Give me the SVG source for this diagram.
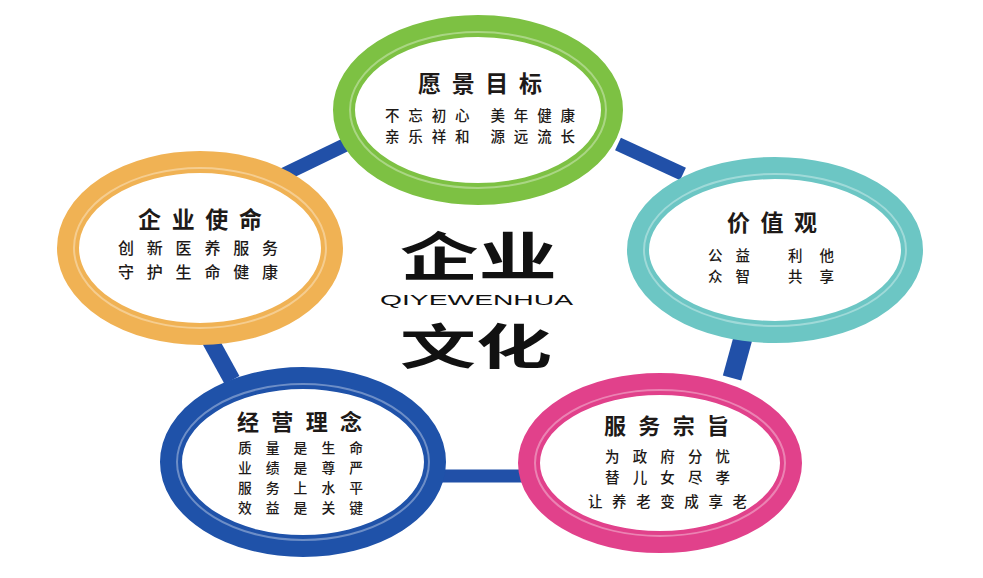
<svg xmlns="http://www.w3.org/2000/svg" width="983" height="578" viewBox="0 0 983 578">
<style>
.ring{fill:#fff;stroke-width:22}
.hl{fill:none;stroke-width:2;opacity:.35;stroke:#fff}
.conn{stroke:#2150a8;fill:none;stroke-linecap:butt}
.cjk{font-family:"Noto Sans CJK SC","Noto Sans CJK JP",sans-serif;fill:#1e1a18;font-weight:500}
.t{font-weight:700}
.big{font-weight:700;fill:#111}
.lat{font-family:"Liberation Sans",Arial,sans-serif;font-weight:400;fill:#111}
</style>
<rect width="983" height="578" fill="#fff"/>
<g id="connectors">
<line class="conn" x1="283" y1="175" x2="345" y2="145" stroke-width="14"/>
<line class="conn" x1="618" y1="144" x2="683" y2="174" stroke-width="14"/>
<line class="conn" x1="210" y1="340" x2="232" y2="380" stroke-width="17"/>
<line class="conn" x1="743" y1="338" x2="732" y2="378" stroke-width="19"/>
<line class="conn" x1="440" y1="476" x2="525" y2="476" stroke-width="13"/>
</g>
<g id="node-vision">
<ellipse class="ring" cx="478" cy="110" rx="134" ry="84" stroke="#7dc143"/>
<ellipse class="hl" cx="478" cy="110" rx="128" ry="78"/>
<text class="cjk t" x="418" y="92" font-size="23" textLength="124" lengthAdjust="spacing">愿景目标</text>
<text class="cjk" x="385" y="120.5" font-size="14.5" textLength="190" lengthAdjust="spacing">不忘初心 美年健康</text>
<text class="cjk" x="385" y="141.5" font-size="14.5" textLength="190" lengthAdjust="spacing">亲乐祥和 源远流长</text>
</g>
<g id="node-mission">
<ellipse class="ring" cx="200" cy="248" rx="132" ry="86" stroke="#f0b254" stroke-width="24"/>
<ellipse class="hl" cx="200" cy="248" rx="126" ry="80"/>
<text class="cjk t" x="138" y="228" font-size="23" textLength="124" lengthAdjust="spacing">企业使命</text>
<text class="cjk" x="118" y="254" font-size="16" textLength="160" lengthAdjust="spacing">创新医养服务</text>
<text class="cjk" x="118" y="278" font-size="16" textLength="160" lengthAdjust="spacing">守护生命健康</text>
</g>
<g id="node-values">
<ellipse class="ring" cx="775" cy="250" rx="137" ry="82" stroke="#6cc6c4"/>
<ellipse class="hl" cx="775" cy="250" rx="131" ry="76"/>
<text class="cjk t" x="727" y="231" font-size="23" textLength="90" lengthAdjust="spacing">价值观</text>
<text class="cjk" x="708" y="260.5" font-size="14.5" textLength="42" lengthAdjust="spacing">公益</text>
<text class="cjk" x="788" y="260.5" font-size="14.5" textLength="46" lengthAdjust="spacing">利他</text>
<text class="cjk" x="708" y="281.5" font-size="14.5" textLength="42" lengthAdjust="spacing">众智</text>
<text class="cjk" x="788" y="281.5" font-size="14.5" textLength="46" lengthAdjust="spacing">共享</text>
</g>
<g id="node-philosophy">
<ellipse class="ring" cx="303" cy="462" rx="132" ry="84" stroke="#1f52a9"/>
<ellipse class="hl" cx="303" cy="462" rx="126" ry="78"/>
<text class="cjk t" x="237" y="430" font-size="22" textLength="125" lengthAdjust="spacing">经营理念</text>
<text class="cjk" x="238" y="453" font-size="13.8" textLength="125" lengthAdjust="spacing">质量是生命</text>
<text class="cjk" x="238" y="473" font-size="13.8" textLength="125" lengthAdjust="spacing">业绩是尊严</text>
<text class="cjk" x="238" y="493" font-size="13.8" textLength="125" lengthAdjust="spacing">服务上水平</text>
<text class="cjk" x="238" y="513" font-size="13.8" textLength="125" lengthAdjust="spacing">效益是关键</text>
</g>
<g id="node-service">
<ellipse class="ring" cx="660" cy="463" rx="131" ry="79" stroke="#e1418b"/>
<ellipse class="hl" cx="660" cy="463" rx="125" ry="73"/>
<text class="cjk t" x="604" y="434" font-size="22" textLength="125" lengthAdjust="spacing">服务宗旨</text>
<text class="cjk" x="605" y="461.5" font-size="14.5" textLength="125" lengthAdjust="spacing">为政府分忧</text>
<text class="cjk" x="605" y="483" font-size="14.5" textLength="125" lengthAdjust="spacing">替儿女尽孝</text>
<text class="cjk" x="588" y="507" font-size="14.5" textLength="159" lengthAdjust="spacing">让养老变成享老</text>
</g>
<g id="center-title">
<text class="cjk big" x="400" y="275.5" font-size="52" textLength="157" lengthAdjust="spacingAndGlyphs">企业</text>
<text class="lat" x="380" y="304.5" font-size="15.5" textLength="193" lengthAdjust="spacingAndGlyphs">QIYEWENHUA</text>
<text class="cjk big" x="400" y="364" font-size="48" textLength="152" lengthAdjust="spacingAndGlyphs">文化</text>
</g>
</svg>
